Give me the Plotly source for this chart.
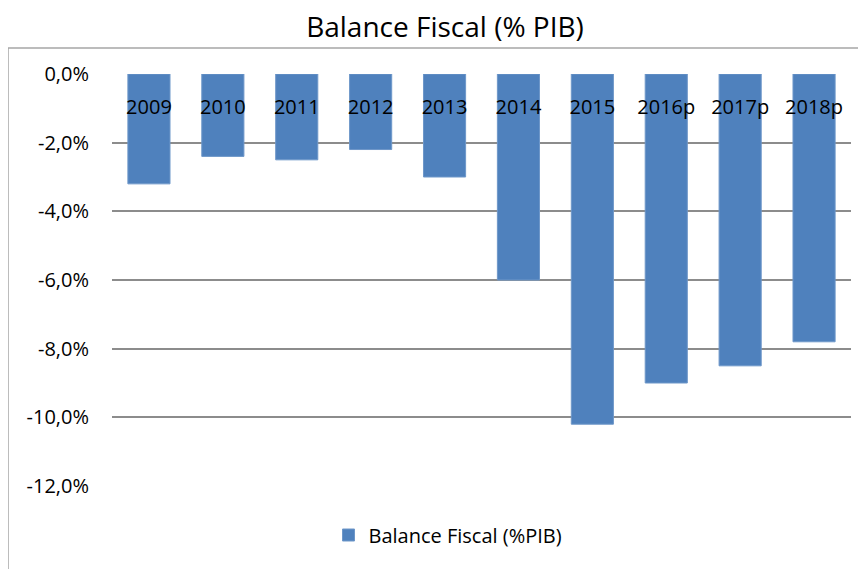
import plotly.graph_objects as go

years = ["2009", "2010", "2011", "2012", "2013", "2014", "2015", "2016p", "2017p", "2018p"]
balance = [-3.2, -2.4, -2.5, -2.2, -3.0, -6.0, -10.2, -9.0, -8.5, -7.8]
ytick_vals = [0, -2, -4, -6, -8, -10, -12]
ytick_text = ["0,0%", "-2,0%", "-4,0%", "-6,0%", "-8,0%", "-10,0%", "-12,0%"]

W, H = 866, 569
O = 8  # page body margin offset
L, T = 112 - O, 74 - O
pw, ph = 739, 412
R = W - L - pw
B = H - T - ph

def px(x):
    return (x - O - L) / pw

def py(y):
    return (T + ph - (y - O)) / ph

FONT = "Open Sans"

fig = go.Figure()
fig.add_trace(go.Bar(
    x=years, y=balance, name="Balance Fiscal (%PIB)",
    marker=dict(color="#4F81BD", line=dict(color="#6E97C9", width=1)),
    showlegend=True,
))

fig.update_layout(
    width=W, height=H,
    margin=dict(l=L, r=R, t=T, b=B),
    paper_bgcolor="white", plot_bgcolor="white",
    bargap=0.43,
    title=dict(text="Balance Fiscal (% PIB)", x=(445 - O) / W, xref="container", xanchor="center",
               y=1 - (27 - O) / H, yref="container", yanchor="middle",
               font=dict(family=FONT, size=28, color="black")),
    xaxis=dict(type="category", anchor="free", position=py(93), side="bottom",
               showline=False, showgrid=False, ticks="", zeroline=False,
               tickfont=dict(family=FONT, size=20, color="black")),
    yaxis=dict(range=[-12, 0], tickvals=ytick_vals, ticktext=ytick_text,
               showgrid=True, gridcolor="#8C8C8C", gridwidth=1.5, zeroline=False,
               showline=False, ticks="", ticklabelstandoff=22,
               tickfont=dict(family=FONT, size=20, color="black")),
    legend=dict(orientation="h", x=px(448), xanchor="center", y=py(535), yanchor="middle",
                font=dict(family=FONT, size=20, color="black"), itemwidth=30),
    shapes=[dict(type="rect", xref="paper", yref="paper",
                 x0=px(8), x1=px(940), y0=py(48), y1=py(620),
                 line=dict(color="#A6A6A6", width=1.5), layer="below")],
)

fig.write_html("out.html")
